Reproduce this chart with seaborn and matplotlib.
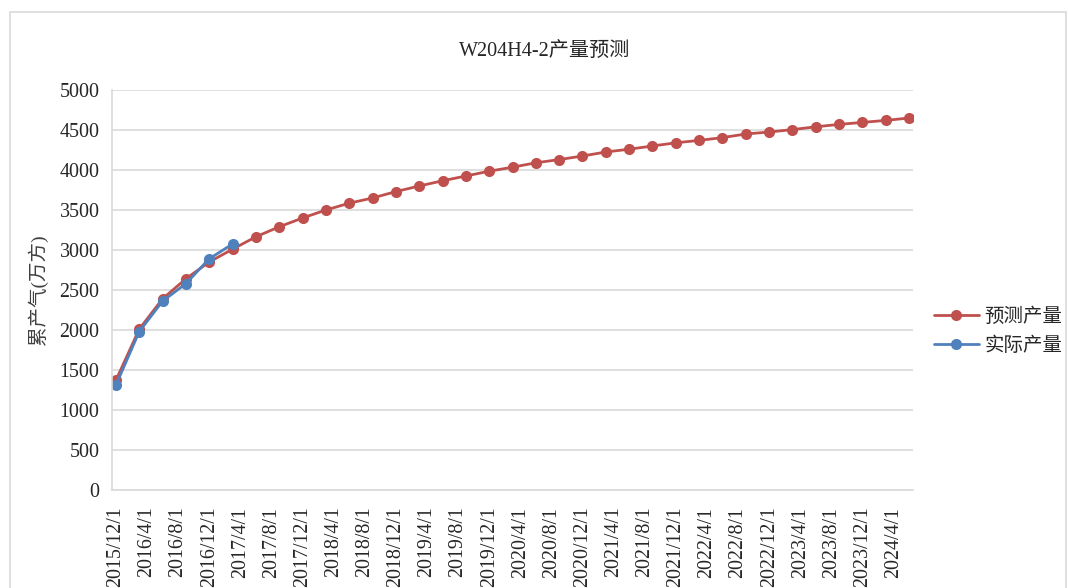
import pandas as pd
import matplotlib
matplotlib.use("Agg")
import matplotlib.pyplot as plt
from matplotlib.patches import Rectangle
import seaborn as sns

# chart data
title = "W204H4-2产量预测"
y_label = "累产气(万方)"
forecast_name = "预测产量"
actual_name = "实际产量"
start_date = "2015-12-01"
forecast = [1370, 2010, 2390, 2640, 2850, 3010, 3165, 3290, 3400, 3500,
            3585, 3650, 3730, 3800, 3865, 3925, 3985, 4035, 4090, 4130,
            4175, 4225, 4260, 4300, 4340, 4370, 4405, 4450, 4475, 4505,
            4540, 4570, 4595, 4620, 4650]
actual = [1310, 1980, 2360, 2580, 2890, 3075]
label_end = "2024-04-01"

# quarterly data dates, labels every 4 months
forecast_dates = pd.date_range(start_date, periods=len(forecast), freq="3MS")
actual_dates = forecast_dates[:len(actual)]
label_dates = pd.date_range(start_date, label_end, freq="4MS")
t0 = pd.Timestamp(start_date)


def month_index(dates):
    return [(d.year - t0.year) * 12 + d.month - t0.month for d in dates]


df_fc = pd.DataFrame({"month": month_index(forecast_dates), "value": forecast})
df_ac = pd.DataFrame({"month": month_index(actual_dates), "value": actual})

sns.set_style("white")
plt.rcParams["font.family"] = ["Liberation Serif", "Noto Sans CJK SC", "DejaVu Sans"]

fig = plt.figure(figsize=(10.68, 5.88), dpi=100)
ax = fig.add_axes([112 / 1068, 1 - 490 / 588, 801 / 1068, 400 / 588])

sns.lineplot(data=df_fc, x="month", y="value", ax=ax, color="#C0504D",
             linewidth=2.0, marker="o", markersize=8, markeredgewidth=0,
             label=forecast_name)
sns.lineplot(data=df_ac, x="month", y="value", ax=ax, color="#4F81BD",
             linewidth=2.0, marker="o", markersize=8, markeredgewidth=0,
             label=actual_name)

n_months = month_index([forecast_dates[-1]])[0]
ax.set_xlim(-0.5, n_months + 0.5)
ax.set_ylim(0, 5000)
ax.set_yticks(range(0, 5001, 500))
ax.set_xticks(month_index(label_dates))
ax.set_xticklabels([f"{d.year}/{d.month}/{d.day}" for d in label_dates],
                   rotation=90, fontsize=14.4)
ax.tick_params(axis="y", labelsize=14.4, length=0, pad=9)
ax.tick_params(axis="x", length=0, pad=12)
ax.yaxis.grid(True, color="#d9d9d9", linewidth=1.2)
ax.xaxis.grid(False)
for side in ["top", "right"]:
    ax.spines[side].set_visible(False)
for side in ["left", "bottom"]:
    ax.spines[side].set_color("#d9d9d9")
    ax.spines[side].set_linewidth(1.2)
ax.set_xlabel("")
ax.set_ylabel(y_label, fontsize=14, color="#404040", labelpad=8)

ax.legend(loc="center left", bbox_to_anchor=(934 / 1068, 1 - 331 / 588),
          bbox_transform=fig.transFigure, frameon=False, fontsize=14,
          handlelength=2.3, handletextpad=0.3, labelspacing=0.55,
          borderaxespad=0, borderpad=0)

fig.text(0.51, 1 - 51 / 588, title, ha="center", va="center", fontsize=14.5)

# chart area border
fig.patches.append(Rectangle((10 / 1068, -0.05), 1056 / 1068, 1.05 - 12 / 588,
                             transform=fig.transFigure, fill=False,
                             edgecolor="#d9d9d9", linewidth=1.2))

fig.savefig("out.png", dpi=100)
